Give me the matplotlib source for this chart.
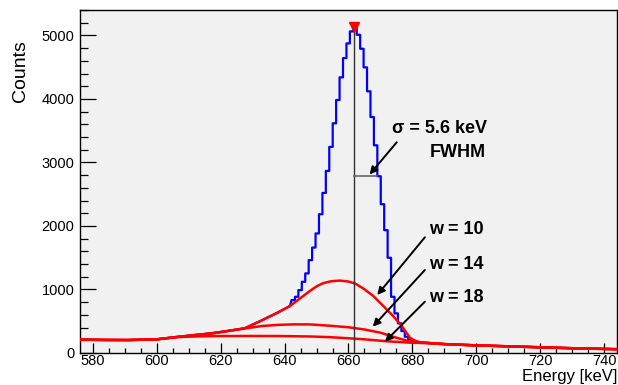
import numpy as np
import matplotlib
matplotlib.use("Agg")
import matplotlib.pyplot as plt
from matplotlib.ticker import MultipleLocator

plt.rcParams['font.family'] = ['Liberation Sans', 'DejaVu Sans']

# measured spectrum around the 661.7 keV line (fixed-width bins)
peak_first_edge = 642.17
bin_width = 1.074
peak_counts = [833, 885, 990, 1121, 1253, 1462, 1660, 1882, 2185, 2520,
               2866, 3245, 3616, 3983, 4340, 4643, 4874, 5063, 5115, 5010,
               4790, 4497, 4120, 3715, 3270, 2783, 2343, 1934, 1499, 885,
               624, 467, 346, 256, 210, 190]

# estimated backgrounds for three clipping windows
w10_energy = [576, 585, 591, 600, 606, 612, 617, 622, 627.5, 632.5, 638, 641.7,
              643, 646.9, 648.3, 650.2, 652.1, 654.6, 657.3, 660, 662, 664.6, 667.7,
              670.9, 674, 676.6, 679.2, 681.3, 683, 690, 700, 710, 720, 730, 744]
w10_counts = [210, 205, 204, 215, 250, 283, 310, 345, 388, 505, 640, 740,
              790, 938, 990, 1055, 1100, 1130, 1140, 1125, 1096, 1017, 900,
              740, 580, 430, 240, 180, 165, 140, 120, 105, 90, 75, 60]

w14_energy = [576, 585, 591, 600, 606, 612, 617, 624, 628, 633, 638, 643, 648,
              654, 660, 665, 670, 675, 679, 683, 690, 700, 710, 720, 730, 744]
w14_counts = [210, 205, 204, 215, 250, 283, 305, 360, 390, 425, 443, 451, 450,
              430, 405, 370, 320, 240, 185, 165, 140, 120, 105, 90, 75, 60]

w18_energy = [576, 585, 591, 600, 606, 612, 617, 628, 638, 641.7, 648, 654,
              660, 665, 672, 679, 683, 690, 700, 710, 720, 730, 744]
w18_counts = [210, 205, 204, 215, 250, 260, 266, 268, 267, 265, 260, 250,
              232, 215, 185, 163, 158, 140, 120, 105, 90, 75, 60]

peak_energy = 661.7
peak_marker = 5140
half_max = 2780
half_max_right = 669.0

fig = plt.figure(figsize=(6.18, 3.85), dpi=100)
ax = fig.add_axes([80 / 618, 1 - 353 / 385, 537 / 618, 343 / 385])
ax.set_facecolor('#f1f1f1')

# blue spectrum: tails follow the background, peak drawn as steps
edges = peak_first_edge + bin_width * np.arange(len(peak_counts) + 1)
step_x = np.repeat(edges, 2)[1:-1]
step_y = np.repeat(peak_counts, 2)
e10 = np.array(w10_energy)
c10 = np.array(w10_counts)
low = e10 < edges[0]
high = e10 > edges[-1]
blue_x = np.concatenate([e10[low], step_x, e10[high]])
blue_y = np.concatenate([c10[low], step_y, c10[high]])
ax.plot(blue_x, blue_y, color='#0000ff', lw=1.6, zorder=2)

for en, cn in [(w10_energy, w10_counts), (w14_energy, w14_counts), (w18_energy, w18_counts)]:
    ax.plot(en, cn, color='#ff0000', lw=1.8, zorder=3)

ax.plot([peak_energy, peak_energy], [0, peak_marker], color='#333333', lw=1.0, zorder=4)
ax.plot([peak_energy, half_max_right], [half_max, half_max], color='#666666', lw=1.2, zorder=4)
ax.plot([peak_energy], [peak_marker], marker='v', color='#ff0000', markersize=6.5,
        linestyle='none', zorder=5)

arrow = dict(arrowstyle='-|>', color='k', lw=1.4, mutation_scale=11, shrinkA=0, shrinkB=0)
txt = dict(fontsize=13, fontweight='bold', ha='left', va='baseline')

ax.annotate('', xy=(666.6, 2810), xytext=(675.1, 3318), arrowprops=arrow, zorder=6)
ax.text(673.5, 3460, 'σ = 5.6 keV', **txt)
ax.text(685.5, 3091, 'FWHM', **txt)

ax.annotate('', xy=(669.0, 913), xytext=(683.9, 1822), arrowprops=arrow, zorder=6)
ax.annotate('', xy=(667.6, 414), xytext=(683.9, 1307), arrowprops=arrow, zorder=6)
ax.annotate('', xy=(671.4, 178), xytext=(683.9, 808), arrowprops=arrow, zorder=6)
ax.text(685.3, 1874, 'w = 10', **txt)
ax.text(685.3, 1328, 'w = 14', **txt)
ax.text(685.3, 808, 'w = 18', **txt)

ax.set_xlim(576, 744)
ax.set_ylim(0, 5400)
ax.xaxis.set_major_locator(MultipleLocator(20))
ax.xaxis.set_minor_locator(MultipleLocator(5))
ax.yaxis.set_major_locator(MultipleLocator(1000))
ax.yaxis.set_minor_locator(MultipleLocator(200))
ax.tick_params(axis='both', which='both', direction='in', top=False, right=False,
               labelsize=10.5, colors='k', width=0.9)
ax.tick_params(axis='x', which='major', length=7.2, pad=1)
ax.tick_params(axis='x', which='minor', length=3.6)
ax.tick_params(axis='y', which='major', length=11.5, pad=4)
ax.tick_params(axis='y', which='minor', length=5.8)
for sp in ax.spines.values():
    sp.set_linewidth(1.0)

fig.text(20 / 618, 1 - 40 / 385, 'Counts', rotation=90, ha='center', va='top', fontsize=14)
fig.text(617 / 618, 3.5 / 385, 'Energy [keV]', ha='right', va='baseline', fontsize=12)

fig.savefig('out.png', dpi=100)
